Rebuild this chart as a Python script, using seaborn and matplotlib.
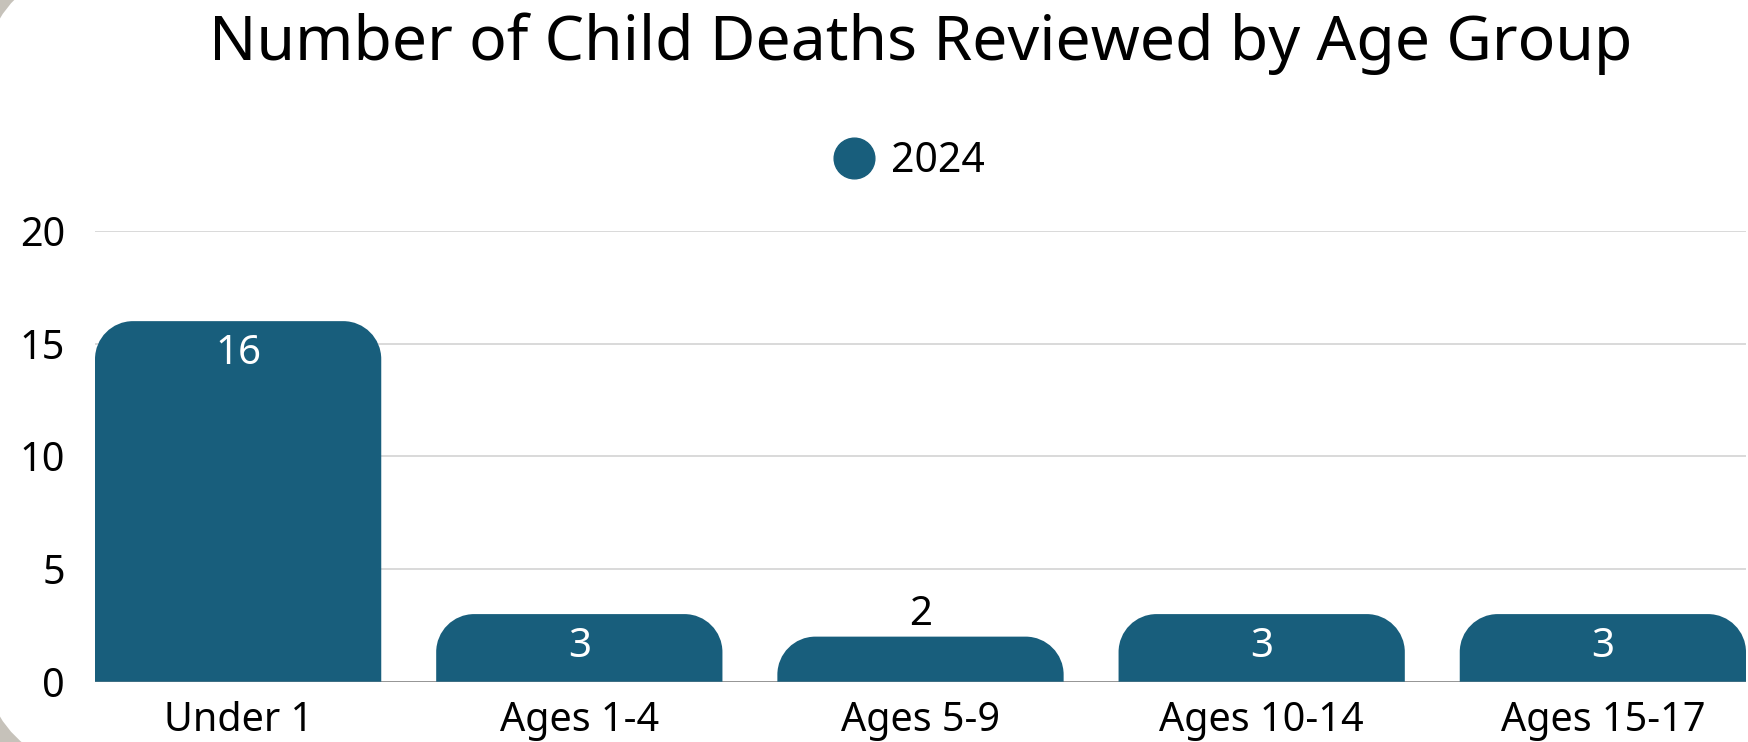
import numpy as np
import pandas as pd
import matplotlib
matplotlib.use("Agg")
import matplotlib.pyplot as plt
import seaborn as sns
from matplotlib.path import Path
from matplotlib.patches import PathPatch, FancyBboxPatch
from matplotlib.lines import Line2D
from matplotlib.transforms import IdentityTransform

# data
age_groups = ["Under 1", "Ages 1-4", "Ages 5-9", "Ages 10-14", "Ages 15-17"]
deaths_2024 = [16, 3, 2, 3, 3]
series_name = "2024"
y_ticks = [0, 5, 10, 15, 20]

bar_color = "#185E7C"
W, H = 1748, 742

sns.set_theme(style="white")
plt.rcParams["font.family"] = ["Noto Sans", "DejaVu Sans"]

df = pd.DataFrame({"group": age_groups, "deaths": deaths_2024})

fig = plt.figure(figsize=(W / 100, H / 100), dpi=100)
fig.patch.set_facecolor("#c6c2ba")

# white card with a big rounded corner on the left
card = FancyBboxPatch((-22, -32), W + 400, 813, boxstyle="round,pad=0,rounding_size=150",
                      facecolor="white", edgecolor="none", zorder=-5)
card.set_transform(IdentityTransform())
fig.add_artist(card)

ax_left, ax_right = 95, 1746
ax_bottom, ax_top = 681.7, 231
ax = fig.add_axes([ax_left / W, 1 - ax_bottom / H, (ax_right - ax_left) / W, (ax_bottom - ax_top) / H])
ax.set_facecolor("none")

bar_w = 0.839
sns.barplot(data=df, x="group", y="deaths", color=bar_color, width=bar_w, ax=ax,
            saturation=1, zorder=3)
ax.set_xlim(-bar_w / 2, len(age_groups) - 1 + bar_w / 2)
ax.set_ylim(0, 20)

# rounded tops
px_x = (ax_right - ax_left) / (ax.get_xlim()[1] - ax.get_xlim()[0])
px_y = (ax_bottom - ax_top) / 20
r_px = 38
k = 0.5523
for p in list(ax.patches):
    x0 = p.get_x()
    x1 = x0 + p.get_width()
    h = p.get_height()
    rx = r_px / px_x
    ry = min(r_px / px_y, h)
    verts = [(x0, 0), (x0, h - ry),
             (x0, h - ry + k * ry), (x0 + rx - k * rx, h), (x0 + rx, h),
             (x1 - rx, h),
             (x1 - rx + k * rx, h), (x1, h - ry + k * ry), (x1, h - ry),
             (x1, 0), (x0, 0)]
    codes = [Path.MOVETO, Path.LINETO,
             Path.CURVE4, Path.CURVE4, Path.CURVE4,
             Path.LINETO,
             Path.CURVE4, Path.CURVE4, Path.CURVE4,
             Path.LINETO, Path.CLOSEPOLY]
    ax.add_patch(PathPatch(Path(verts, codes), facecolor=bar_color, edgecolor="none", zorder=3))
    p.set_visible(False)
    cx = (x0 + x1) / 2
    if h >= 3:
        ax.annotate(f"{h:g}", (cx, h), xytext=(0, -43), textcoords="offset pixels",
                    ha="center", va="baseline", color="white", fontsize=29, zorder=4)
    else:
        ax.annotate(f"{h:g}", (cx, h), xytext=(0, 11.7), textcoords="offset pixels",
                    ha="center", va="baseline", color="black", fontsize=29, zorder=4)

ax.set_yticks(y_ticks)
ax.yaxis.grid(True, color="#d3d3d3", linewidth=1.2, zorder=0)
ax.axhline(0, color="#8a8a8a", linewidth=1.2, zorder=1)
for s in ax.spines.values():
    s.set_visible(False)
ax.tick_params(axis="y", length=0, pad=21.5, labelsize=28.5, labelcolor="black")
ax.tick_params(axis="x", length=0, pad=14, labelsize=28.5, labelcolor="black")
ax.set_xlabel("")
ax.set_ylabel("")

fig.text(920.5 / W, 1 - 60 / H, "Number of Child Deaths Reviewed by Age Group",
         ha="center", va="baseline", fontsize=45, color="black")

handle = Line2D([], [], marker="o", linestyle="", color=bar_color, markersize=29.3)
fig.legend([handle], [series_name], loc="center", bbox_to_anchor=(907 / W, 1 - 161 / H),
           frameon=False, fontsize=29.5, handletextpad=0.3, borderpad=0, handlelength=1.2,
           labelcolor="black")

fig.savefig("out.png", dpi=100)
